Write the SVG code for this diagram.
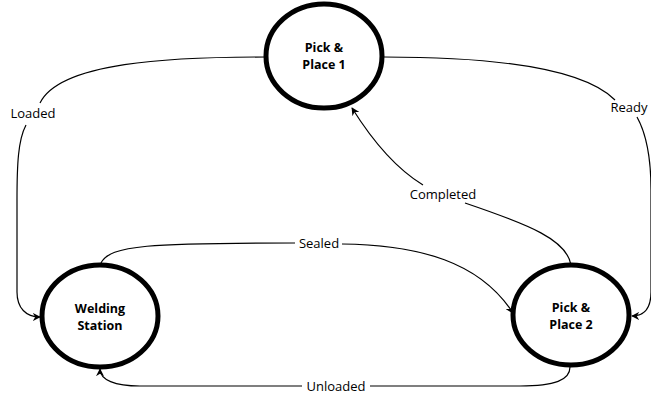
<svg xmlns="http://www.w3.org/2000/svg" width="651" height="394" viewBox="0 0 651 394">
<style>
.node{fill:#fff;stroke:#000;stroke-width:5}
.nt{font-family:"Open Sans","Liberation Sans",sans-serif;font-size:12.5px;font-weight:bold;text-anchor:middle;fill:#000}
.lbl{font-family:"Open Sans","Liberation Sans",sans-serif;font-size:13px;text-anchor:middle;fill:#000}
.edge{fill:none;stroke:#000;stroke-width:1.2}
</style>
<defs>
<marker id="arr" viewBox="0 0 10 10" refX="9" refY="5" markerWidth="8" markerHeight="8" markerUnits="userSpaceOnUse" orient="auto">
<path d="M0,0 L10,5 L0,10 L3,5 z" fill="#000"/>
</marker>
</defs>
<g id="connectors">
<path class="edge" d="M266,57 C170,57 60,62 40,103"/>
<path class="edge" d="M26,125 C18,140 17,165 17,200 L17,292 C17,308 26,317 40,317" marker-end="url(#arr)"/>
<path class="edge" d="M384,57 C480,57 580,65 615,100"/>
<path class="edge" d="M637,117 C647,135 651,160 651,190 L651,292 C651,307 645,316 632,316" marker-end="url(#arr)"/>
<path class="edge" d="M571,265 C567,240 530,225 465,203"/>
<path class="edge" d="M423,185 C395,168 372,140 352,108" marker-end="url(#arr)"/>
<path class="edge" d="M101,263 C110,245 150,243 295,243"/>
<path class="edge" d="M342,244 C420,245 480,262 513,313" marker-end="url(#arr)"/>
<path class="edge" d="M570,367 C570,380 555,386 520,386 L370,386"/>
<path class="edge" d="M302,386 L140,386 C115,386 100,380 100,369" marker-end="url(#arr)"/>
</g>
<g id="node-pp1">
<ellipse class="node" cx="324" cy="56" rx="58" ry="52"/>
<text class="nt" x="324" y="52">Pick &amp;</text>
<text class="nt" x="324" y="69">Place 1</text>
</g>
<g id="node-weld">
<ellipse class="node" cx="100" cy="316" rx="58" ry="51"/>
<text class="nt" x="100" y="313">Welding</text>
<text class="nt" x="100" y="330">Station</text>
</g>
<g id="node-pp2">
<ellipse class="node" cx="571" cy="315" rx="58" ry="50"/>
<text class="nt" x="571" y="312">Pick &amp;</text>
<text class="nt" x="571" y="329">Place 2</text>
</g>
<g id="labels">
<text class="lbl" x="33" y="118">Loaded</text>
<text class="lbl" x="629" y="112">Ready</text>
<text class="lbl" x="443" y="199">Completed</text>
<text class="lbl" x="319" y="248">Sealed</text>
<text class="lbl" x="336" y="391">Unloaded</text>
</g>
</svg>
